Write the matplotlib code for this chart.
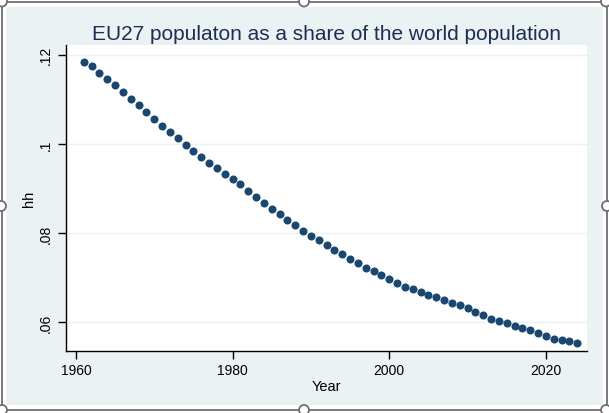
import numpy as np
import matplotlib
matplotlib.use("Agg")
import matplotlib.pyplot as plt
from matplotlib.patches import Rectangle, Circle

# EU27 population as a share of world population
years = list(range(1961, 2025))
share = [
    0.1184, 0.1174, 0.1159, 0.1146, 0.1131, 0.1116, 0.1101, 0.1087, 0.1072, 0.1056,
    0.1040, 0.1027, 0.1013, 0.0998, 0.0983, 0.0970, 0.0958, 0.0945, 0.0933, 0.0921,
    0.0909, 0.0895, 0.0882, 0.0868, 0.0855, 0.0842, 0.0829, 0.0818, 0.0805, 0.0794,
    0.0785, 0.0773, 0.0763, 0.0753, 0.0743, 0.0734, 0.0721, 0.0714, 0.0705, 0.0697,
    0.0688, 0.0680, 0.0675, 0.0668, 0.0662, 0.0657, 0.0651, 0.0644, 0.0639, 0.0631,
    0.0623, 0.0616, 0.0608, 0.0602, 0.0598, 0.0592, 0.0587, 0.0582, 0.0576, 0.0569,
    0.0563, 0.0561, 0.0558, 0.0554,
]
xticks = [1960, 1980, 2000, 2020]
yticks = [0.06, 0.08, 0.10, 0.12]
ytick_labels = [".06", ".08", ".1", ".12"]

plt.rcParams["font.family"] = ["Liberation Sans", "DejaVu Sans"]

W, H = 609, 414
fig = plt.figure(figsize=(W / 100, H / 100), dpi=100)
fig.patch.set_facecolor("white")

# background layer in pixel coordinates (graph region, frame, handles)
bg = fig.add_axes([0, 0, 1, 1])
bg.set_xlim(0, W)
bg.set_ylim(H, 0)
bg.axis("off")
bg.add_patch(Rectangle((6, 8), 597, 398, facecolor="#eaf2f3", edgecolor="none"))
bg.add_patch(Rectangle((1.5, 2.5), 605.5, 409, facecolor="none",
                       edgecolor="#6e6e6e", linewidth=1.3))
for hx, hy in [(2, 2.5), (304, 2.5), (606, 2.5), (1, 207), (607, 207),
               (2, 411), (304, 411), (606, 411)]:
    bg.add_patch(Circle((hx, hy), 5, facecolor="white", edgecolor="#6e6e6e",
                        linewidth=1.3, zorder=3))

ax = fig.add_axes([65.5 / W, 1 - 352 / H, (587 - 65.5) / W, (352 - 46) / H])
ax.set_facecolor("white")
ax.plot(years, share, linestyle="none", marker="o", markersize=5.8,
        color="#1a476f", markeredgewidth=0)

ax.set_xlim(1958.66, 2025.24)
ax.set_ylim(0.05357, 0.12217)
ax.set_xticks(xticks)
ax.set_yticks(yticks)
ax.set_yticklabels(ytick_labels, rotation=90, va="center")
ax.tick_params(axis="both", length=6, width=1, labelsize=10, colors="black", pad=3)
ax.grid(axis="y", color="#eaf2f3", linewidth=1)
ax.set_axisbelow(True)
for side in ["top", "right"]:
    ax.spines[side].set_visible(False)
for side in ["left", "bottom"]:
    ax.spines[side].set_linewidth(1)

ax.set_title("EU27 populaton as a share of the world population",
             fontsize=15, color="#1e2d52", pad=4)
ax.set_xlabel("Year", fontsize=10.5, labelpad=1)
ax.set_ylabel("hh", fontsize=10.5, labelpad=2)

fig.savefig("out.png", dpi=100, facecolor="white")
